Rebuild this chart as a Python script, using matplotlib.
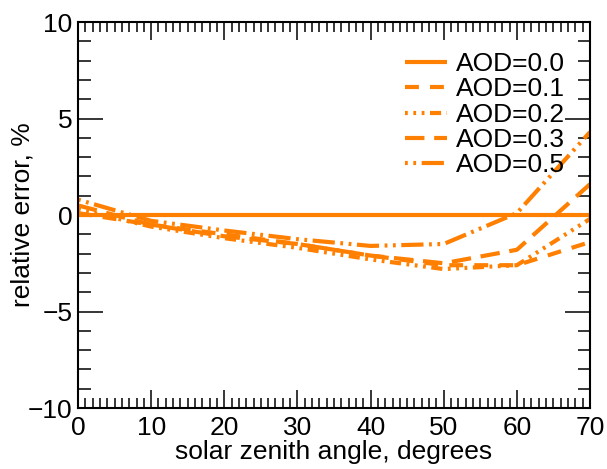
import matplotlib
matplotlib.use('Agg')
import matplotlib.pyplot as plt
from matplotlib.ticker import MultipleLocator

plt.rcParams['font.family'] = ['Liberation Sans', 'DejaVu Sans']
plt.rcParams['lines.scale_dashes'] = False

# solar zenith angle, degrees
sza = [0, 10, 20, 30, 40, 50, 60, 70]

# relative error, %
err_aod00 = [0.0, 0.0, 0.0, 0.0, 0.0, 0.0, 0.0, 0.0]
err_aod01 = [0.1, -0.5, -1.0, -1.5, -2.1, -2.6, -2.6, -1.4]
err_aod02 = [0.3, -0.6, -1.2, -1.7, -2.3, -2.8, -2.6, -0.2]
err_aod03 = [0.5, -0.5, -1.1, -1.5, -2.1, -2.5, -1.8, 1.6]
err_aod05 = [0.8, -0.3, -0.8, -1.25, -1.6, -1.5, 0.1, 4.3]

labels = ['AOD=0.0', 'AOD=0.1', 'AOD=0.2', 'AOD=0.3', 'AOD=0.5']
styles = ['-', (0, (10, 8)), (0, (2, 4, 2, 4, 2, 4, 8, 4)),
          (0, (14, 7)), (0, (2, 4, 2, 4, 16, 4))]
c_line = '#ff7f00'

fig = plt.figure(figsize=(6.07, 4.69), dpi=100)
ax = fig.add_axes([0.1285, 0.130, 0.8435, 0.823])

series = [err_aod00, err_aod01, err_aod02, err_aod03, err_aod05]
for y, lab, ls in zip(series, labels, styles):
    ax.plot(sza, y, color=c_line, linewidth=3, linestyle=ls, label=lab,
            solid_capstyle='butt', dash_capstyle='butt')

ax.set_xlim(0, 70)
ax.set_ylim(-10, 10)
ax.xaxis.set_major_locator(MultipleLocator(10))
ax.xaxis.set_minor_locator(MultipleLocator(1))
ax.yaxis.set_major_locator(MultipleLocator(5))
ax.yaxis.set_minor_locator(MultipleLocator(1))

ax.tick_params(axis='both', which='both', direction='in', top=True, right=True,
               labelsize=19, width=1.1, color='black')
ax.tick_params(axis='x', which='major', length=13, pad=6)
ax.tick_params(axis='x', which='minor', length=7)
ax.tick_params(axis='y', which='major', length=18, pad=4)
ax.tick_params(axis='y', which='minor', length=9)
for s in ax.spines.values():
    s.set_linewidth(1.5)

ax.set_xlabel('solar zenith angle, degrees', fontsize=19, labelpad=0)
ax.set_ylabel('relative error, %', fontsize=19)
ax.yaxis.set_label_coords(-0.084, 0.5)

ax.legend(loc='upper right', bbox_to_anchor=(0.952, 0.922), frameon=False,
          fontsize=19, handlelength=1.6, handletextpad=0.35, labelspacing=0.05,
          borderpad=0, borderaxespad=0)

fig.savefig('out.png', dpi=100)
